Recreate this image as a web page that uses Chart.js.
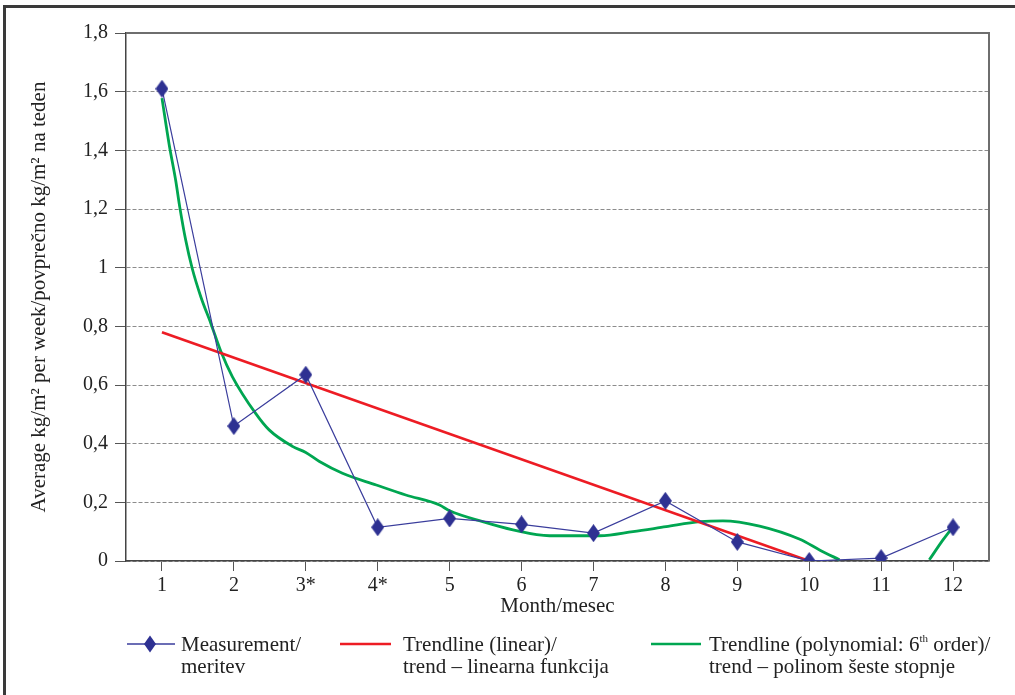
<!DOCTYPE html>
<html>
<head>
<meta charset="utf-8">
<script src="https://cdn.jsdelivr.net/npm/chart.js@4.4.0/dist/chart.umd.min.js"></script>
<style>
  body { margin: 0; background: #fff; }
  #wrap { position: relative; width: 1015px; height: 695px; overflow: hidden; font-family: "Liberation Serif", "DejaVu Serif", serif; color: #222; }
  #frame { position: absolute; left: 3px; top: 5px; right: -10px; bottom: -10px; border-top: 3px solid #3a3a3a; border-left: 3px solid #3a3a3a; }
  #grafico { position: absolute; left: 0; top: 0; }
  .leyenda { position: absolute; top: 633px; font-size: 21px; line-height: 22px; }
  .marca { position: absolute; top: 634px; }
  sup { font-size: 11px; vertical-align: 9px; line-height: 0; }
</style>
</head>
<body>
<div id="wrap">
  <div id="frame"></div>
  <canvas id="grafico" width="1015" height="695"></canvas>

  <svg class="marca" style="left:127px" width="48" height="20">
    <line x1="0" y1="10" x2="48" y2="10" stroke="#3a3d9c" stroke-width="1.3"/>
    <polygon points="23,1.5 29,10 23,18.5 17,10" fill="#2e3192"/>
  </svg>
  <div class="leyenda" style="left:181px">Measurement/<br>meritev</div>

  <svg class="marca" style="left:340px" width="51" height="20">
    <line x1="0" y1="10" x2="51" y2="10" stroke="#ed1c24" stroke-width="2.6"/>
  </svg>
  <div class="leyenda" style="left:403px">Trendline (linear)/<br>trend – linearna funkcija</div>

  <svg class="marca" style="left:651px" width="50" height="20">
    <line x1="0" y1="10" x2="50" y2="10" stroke="#00a651" stroke-width="2.6"/>
  </svg>
  <div class="leyenda" style="left:709px">Trendline (polynomial: 6<sup>th</sup> order)/<br>trend – polinom šeste stopnje</div>
</div>

<script>
// Datos
const meses = [1, 2, 3, 4, 5, 6, 7, 8, 9, 10, 11, 12];
const etiquetasMes = ['1', '2', '3*', '4*', '5', '6', '7', '8', '9', '10', '11', '12'];
const medicion = [1.61, 0.46, 0.635, 0.115, 0.145, 0.125, 0.095, 0.205, 0.065, 0.0, 0.01, 0.115];

// Tendencia lineal (extremos visibles)
const linealX = [1, 10];
const linealY = [0.78, 0];

// Tendencia polinómica (null = fuera del área)
const poliX = [1, 1.1, 1.19, 1.25, 1.33, 1.42, 1.54, 1.68, 1.82, 1.98, 2.3, 2.49, 2.82, 3.0, 3.19, 3.51, 3.98, 4.39, 4.86, 5.0, 5.46, 5.88, 6.39, 7.09, 7.55, 8.01, 8.48, 8.8, 9.31, 9.87, 10.15, 10.42, 11.0, 11.67, 11.86, 12];
const poliY = [1.578, 1.42, 1.299, 1.203, 1.094, 0.998, 0.901, 0.81, 0.714, 0.628, 0.504, 0.447, 0.39, 0.37, 0.339, 0.299, 0.259, 0.225, 0.191, 0.171, 0.134, 0.106, 0.086, 0.086, 0.1, 0.117, 0.134, 0.137, 0.119, 0.074, 0.037, 0.004, null, 0.004, 0.072, 0.117];

const tituloY = 'Average kg/m² per week/povprečno kg/m² na teden';
const tituloX = 'Month/mesec';

const fuente = 'Liberation Serif';

// Marcador en forma de rombo (más alto que ancho)
function crearRombo(w, h, color) {
  const c = document.createElement('canvas');
  c.width = w;
  c.height = h;
  const g = c.getContext('2d');
  g.fillStyle = color;
  g.beginPath();
  g.moveTo(w / 2, 0);
  g.lineTo(w, h / 2);
  g.lineTo(w / 2, h);
  g.lineTo(0, h / 2);
  g.closePath();
  g.fill();
  return c;
}
const rombo = crearRombo(13, 18, '#2e3192');

// Marco superior y derecho del área de trazado
const marcoArea = {
  id: 'marcoArea',
  afterDraw(chart) {
    const { ctx, chartArea: a } = chart;
    ctx.save();
    ctx.strokeStyle = '#6e6e6e';
    ctx.lineWidth = 2;
    ctx.beginPath();
    ctx.moveTo(a.left, a.top);
    ctx.lineTo(a.right, a.top);
    ctx.lineTo(a.right, a.bottom);
    ctx.stroke();
    ctx.restore();
  }
};

new Chart(document.getElementById('grafico'), {
  type: 'line',
  data: {
    datasets: [
      {
        label: 'Measurement',
        data: meses.map((m, i) => ({ x: m, y: medicion[i] })),
        borderColor: '#3a3d9c',
        borderWidth: 1.2,
        pointStyle: rombo,
        pointRadius: 8,
        tension: 0
      },
      {
        label: 'Trendline (linear)',
        data: linealX.map((x, i) => ({ x: x, y: linealY[i] })),
        borderColor: '#ed1c24',
        borderWidth: 2.6,
        pointRadius: 0,
        tension: 0
      },
      {
        label: 'Trendline (polynomial)',
        data: poliX.map((x, i) => ({ x: x, y: poliY[i] })),
        borderColor: '#00a651',
        borderWidth: 2.8,
        pointRadius: 0,
        cubicInterpolationMode: 'monotone',
        spanGaps: false
      }
    ]
  },
  options: {
    responsive: false,
    animation: false,
    layout: { padding: { top: 33, right: 26, left: 0, bottom: 76 } },
    plugins: {
      legend: { display: false },
      tooltip: { enabled: false }
    },
    scales: {
      x: {
        type: 'linear',
        min: 0.5,
        max: 12.5,
        afterBuildTicks: (scale) => {
          scale.ticks = meses.map(m => ({ value: m }));
        },
        afterFit: (scale) => { scale.height = 58; },
        ticks: {
          autoSkip: false,
          maxRotation: 0,
          padding: 3,
          color: '#222',
          font: { family: fuente, size: 20 },
          callback: (v) => etiquetasMes[Math.round(v) - 1]
        },
        grid: {
          drawOnChartArea: false,
          drawTicks: true,
          tickLength: 10,
          tickColor: '#555'
        },
        border: { color: '#444', width: 1.5 },
        title: {
          display: true,
          text: tituloX,
          color: '#222',
          padding: { top: 0, bottom: 0 },
          font: { family: fuente, size: 21 }
        }
      },
      y: {
        min: 0,
        max: 1.8,
        afterFit: (scale) => { scale.width = 126; },
        ticks: {
          stepSize: 0.2,
          padding: 7,
          color: '#222',
          font: { family: fuente, size: 20 },
          callback: (v) => String(Math.round(v * 10) / 10).replace('.', ',')
        },
        grid: {
          color: '#8c8c8c',
          lineWidth: 1,
          tickLength: 11,
          tickColor: '#555',
          tickBorderDash: []
        },
        border: { color: '#444', width: 1.5, dash: [4, 2] },
        title: {
          display: true,
          text: tituloY,
          color: '#222',
          padding: { top: 27, bottom: 0 },
          font: { family: fuente, size: 21 }
        }
      }
    }
  },
  plugins: [marcoArea]
});
</script>
</body>
</html>
